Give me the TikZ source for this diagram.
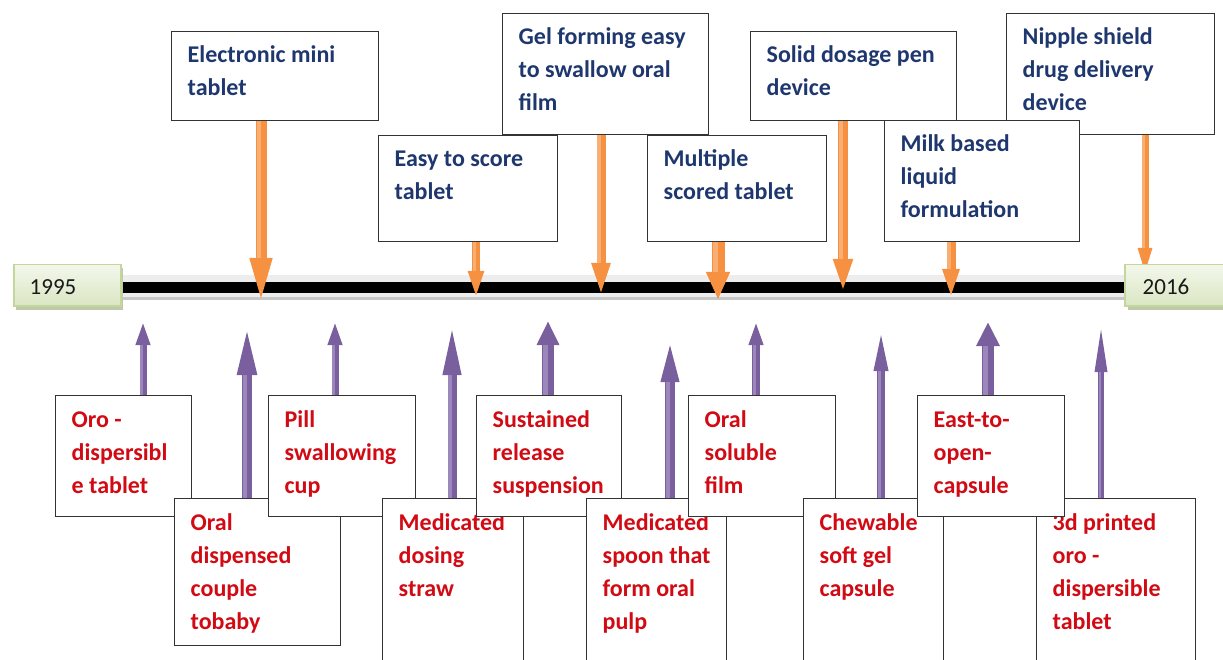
\documentclass[tikz,border=0pt]{standalone}
\usepackage{fontspec}
\setmainfont{Carlito}
\usetikzlibrary{arrows.meta,calc}
\definecolor{topblue}{RGB}{30,55,110}
\definecolor{botred}{RGB}{210,10,20}
\definecolor{orA}{RGB}{245,145,65}
\definecolor{orL}{RGB}{249,175,115}
\definecolor{puA}{RGB}{122,95,158}
\definecolor{puL}{RGB}{155,135,188}
\definecolor{yrfillT}{RGB}{243,247,235}
\definecolor{yrfillB}{RGB}{218,230,195}
\definecolor{yrline}{RGB}{195,214,155}
\definecolor{yrshadow}{RGB}{190,200,170}
\pgfdeclarelayer{bgl}
\pgfdeclarelayer{arl}
\pgfsetlayers{bgl,arl,main}
\tikzset{
  cbox/.style={draw=black!80, line width=1.4pt, fill=white, anchor=north west, inner sep=0pt},
  ttxt/.style={anchor=base west, inner sep=0pt, font=\bfseries\fontsize{24}{33}\selectfont, text=topblue},
  btxt/.style={anchor=base west, inner sep=0pt, font=\bfseries\fontsize{24}{33}\selectfont, text=botred},
  oarr/.style n args={3}{draw=orA, line width=#1, -{Triangle[width=#2,length=#3]}},
  parr/.style n args={3}{draw=puA, line width=#1, -{Triangle[width=#2,length=#3]}},
  ohl/.style n args={2}{draw=orL, line width=#1, shorten >=#2, transform canvas={xshift=-0.5*#1}},
  phl/.style n args={2}{draw=puL, line width=#1, shorten >=#2, transform canvas={xshift=-0.5*#1}},
  yearbox/.style={draw=yrline, line width=1.5pt, top color=yrfillT, bottom color=yrfillB, anchor=north west, inner sep=0pt},
  yeartxt/.style={font=\fontsize{23}{27}\selectfont, text=black!90, inner sep=0pt}
}
\newcommand\mkbox[7]{%
  \node[cbox, minimum width={#4-#2}, minimum height={#5-#3}] (#1) at (#2,#3) {};
  \node[#6] (#1t) at ([shift={(16.5,32)}]#1.north west) {\parbox[t]{7cm}{\raggedright #7}};
}
% #1 style prefix (o/p), #2 shaft, #3 head width, #4 head length, #5 start, #6 end
\newcommand\mkarrow[6]{%
  \draw[#1arr={#2pt}{#3pt}{#4pt}] #5 -- #6;
  \draw[#1hl={0.4*#2pt}{#4pt}] #5 -- #6;
}
\begin{document}
\begin{tikzpicture}[x=1pt,y=-1pt]
\useasboundingbox (0,0) rectangle (1223,660);

% timeline
\begin{pgfonlayer}{bgl}
\fill[black!7] (118,275) rectangle (1128,300);
\fill[black!22] (118,297) rectangle (1128,300);
\fill[black] (118,282) rectangle (1128,293);
\end{pgfonlayer}

% year boxes
\fill[yrshadow] (16,268) rectangle (123,310);
\node[yearbox, minimum width=107, minimum height=41] (y1) at (13,264) {};
\node[yeartxt] (y1t) at (53,287) {1995};
\fill[yrshadow] (1128,268) rectangle (1226,310);
\node[yearbox, minimum width=110, minimum height=41] (y2) at (1124,264) {};
\node[yeartxt] (y2t) at (1166,287) {2016};

% top boxes
\mkbox{e1}{171}{31}{378}{120}{ttxt}{Electronic mini\\tablet}
\mkbox{e3}{502}{13}{708}{134}{ttxt}{Gel forming easy\\to swallow oral\\film}
\mkbox{e2}{378}{135}{557}{241}{ttxt}{Easy to score\\tablet}
\mkbox{e4}{647}{135}{826}{241}{ttxt}{Multiple\\scored tablet}
\mkbox{e5}{750}{31}{956}{120}{ttxt}{Solid dosage pen\\device}
\mkbox{e6}{1006}{13}{1214}{134}{ttxt}{Nipple shield\\drug delivery\\device}
\mkbox{e7}{884}{120}{1079}{241}{ttxt}{Milk based\\liquid\\formulation}

% bottom boxes
\mkbox{f1}{55}{395}{191}{516}{btxt}{Oro -\\dispersibl\\e tablet}
\mkbox{f2}{174}{498}{340}{645}{btxt}{Oral\\dispensed\\couple\\tobaby}
\mkbox{f3}{268}{395}{415}{516}{btxt}{Pill\\swallowing\\cup}
\mkbox{f4}{382}{498}{523}{700}{btxt}{Medicated\\dosing\\straw}
\mkbox{f5}{476}{395}{621}{516}{btxt}{Sustained\\release\\suspension}
\mkbox{f6}{586}{498}{726}{700}{btxt}{Medicated\\spoon that\\form oral\\pulp}
\mkbox{f7}{688}{395}{835}{516}{btxt}{Oral\\soluble\\film}
\mkbox{f8}{803}{498}{943}{700}{btxt}{Chewable\\soft gel\\capsule}
\mkbox{f9}{1036}{498}{1195}{700}{btxt}{3d printed\\oro -\\dispersible\\tablet}
\mkbox{f10}{917}{395}{1064}{516}{btxt}{East-to-\\open-\\capsule}

% arrow tips
\coordinate (te1) at (261,308);
\coordinate (te2) at (476,299);
\coordinate (te3) at (601,299);
\coordinate (te4) at (718,300);
\coordinate (te5) at (843,299);
\coordinate (te6) at (1145,278);
\coordinate (te7) at (951,299);
\coordinate (tf1) at (143,321);
\coordinate (tf2) at (247,321);
\coordinate (tf3) at (335,321);
\coordinate (tf4) at (452,321);
\coordinate (tf5) at (548,321);
\coordinate (tf6) at (670,330);
\coordinate (tf7) at (756,321);
\coordinate (tf8) at (881,321);
\coordinate (tf9) at (1101,322);
\coordinate (tf10) at (988,322);

\begin{pgfonlayer}{arl}
\mkarrow{o}{11}{19}{50}{(te1 |- e1.south)}{(te1)}
\mkarrow{o}{8}{14}{28}{(te2 |- e2.south)}{(te2)}
\mkarrow{o}{9}{16}{36}{(te3 |- e3.south)}{(te3)}
\mkarrow{o}{13}{22}{28}{(te4 |- e4.south)}{(te4)}
\mkarrow{o}{10}{16}{40}{(te5 |- e5.south)}{(te5)}
\mkarrow{o}{7}{12}{30}{(te6 |- e6.south)}{(te6)}
\mkarrow{o}{9}{15}{30}{(te7 |- e7.south)}{(te7)}
\mkarrow{p}{7}{13}{24}{(tf1 |- f1.north)}{(tf1)}
\mkarrow{p}{10}{17}{54}{(tf2 |- f2.north)}{(tf2)}
\mkarrow{p}{7}{13}{24}{(tf3 |- f3.north)}{(tf3)}
\mkarrow{p}{9}{16}{54}{(tf4 |- f4.north)}{(tf4)}
\mkarrow{p}{12}{21}{24}{(tf5 |- f5.north)}{(tf5)}
\mkarrow{p}{10}{15}{52}{(tf6 |- f6.north)}{(tf6)}
\mkarrow{p}{8}{13}{24}{(tf7 |- f7.north)}{(tf7)}
\mkarrow{p}{8}{12}{50}{(tf8 |- f8.north)}{(tf8)}
\mkarrow{p}{6}{11}{50}{(tf9 |- f9.north)}{(tf9)}
\mkarrow{p}{12}{22}{24}{(tf10 |- f10.north)}{(tf10)}
\end{pgfonlayer}
\end{tikzpicture}
\end{document}
